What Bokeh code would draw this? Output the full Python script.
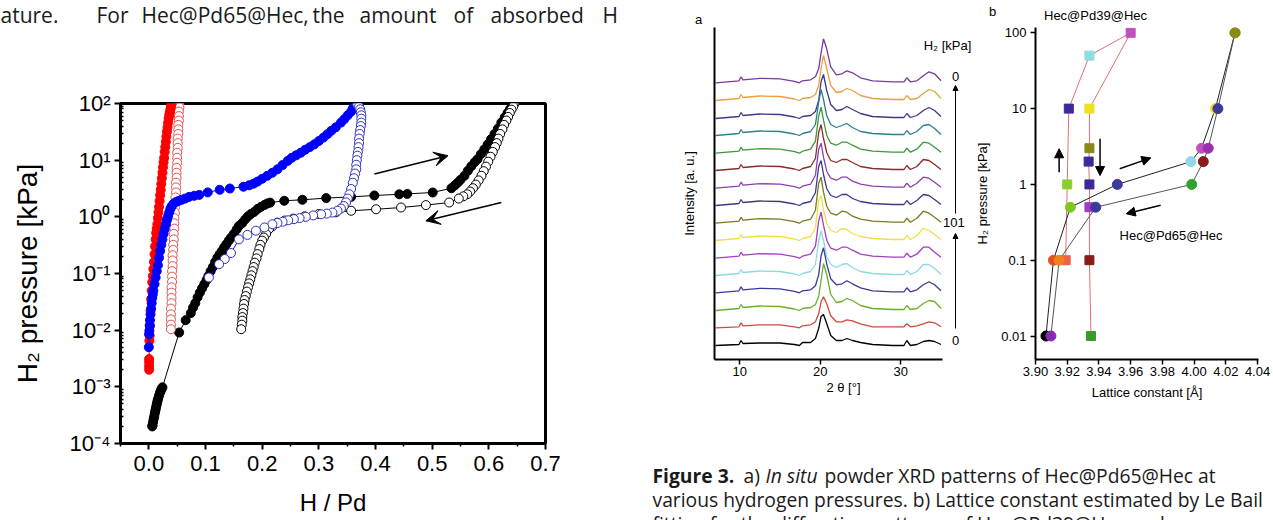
from bokeh.plotting import figure
from bokeh.layouts import row, column
from bokeh.models import (Range1d, Arrow, VeeHead, NormalHead, CustomJSTickFormatter,
                          FixedTicker, PrintfTickFormatter)
from bokeh.embed import file_html
from bokeh.resources import INLINE
from bokeh.core.properties import value

# ---------------- data: left panel (H/Pd vs H2 pressure) ----------------
red_fill_x = [0.0005, 0.0005, 0.0005, 0.0005, 0.001, 0.0015, 0.002, 0.003, 0.004, 0.005, 0.006, 0.007,
              0.008, 0.009, 0.010, 0.011, 0.012, 0.013, 0.014, 0.015, 0.016, 0.017, 0.018, 0.019, 0.020,
              0.021, 0.022, 0.023, 0.024, 0.025, 0.026, 0.027, 0.028, 0.029, 0.030, 0.031, 0.032, 0.033,
              0.034, 0.035, 0.036, 0.037, 0.038, 0.039, 0.040]
red_fill_y = [0.0020, 0.0023, 0.0027, 0.0031, 0.0065, 0.0080, 0.012, 0.022, 0.035, 0.05, 0.07, 0.09,
              0.12, 0.16, 0.22, 0.30, 0.40, 0.52, 0.62, 0.74, 0.95, 1.2, 1.5, 1.9, 2.4,
              3.0, 3.8, 4.8, 6.0, 7.5, 9.2, 11, 14, 17, 21, 26, 32, 38,
              46, 55, 62, 70, 78, 88, 98]

red_open_x = [0.054, 0.054, 0.053, 0.053, 0.053, 0.052, 0.052, 0.052, 0.051, 0.051, 0.051, 0.050, 0.050,
              0.050, 0.049, 0.049, 0.049, 0.048, 0.048, 0.048, 0.047, 0.047, 0.046, 0.046, 0.045, 0.045,
              0.045, 0.044, 0.044, 0.043, 0.043, 0.042, 0.042, 0.042, 0.041, 0.041, 0.041, 0.040, 0.040,
              0.040, 0.040, 0.039, 0.039, 0.039, 0.039, 0.039]
red_open_y = [98, 85, 72, 60, 50, 42, 35, 29, 24, 20, 16.5, 13.5, 11,
              9, 7.3, 6, 4.9, 4.0, 3.3, 2.7, 2.2, 1.8, 1.45, 1.18, 0.95, 0.77,
              0.62, 0.5, 0.4, 0.32, 0.26, 0.21, 0.17, 0.135, 0.11, 0.088, 0.071, 0.057, 0.046,
              0.037, 0.03, 0.024, 0.019, 0.0155, 0.0125, 0.0104]

blue_fill_x = [0.0, 0.0005, 0.001, 0.0015, 0.002, 0.003, 0.004, 0.005, 0.006, 0.007, 0.008, 0.010, 0.012,
               0.014, 0.016, 0.018, 0.020, 0.022, 0.024, 0.026, 0.028, 0.030, 0.032, 0.034, 0.036, 0.038,
               0.040, 0.043, 0.047, 0.052, 0.058, 0.064, 0.071, 0.080, 0.089, 0.104, 0.125, 0.143, 0.167,
               0.177, 0.185, 0.192, 0.200, 0.209, 0.218, 0.227, 0.236, 0.245, 0.252, 0.260, 0.268, 0.276,
               0.284, 0.292, 0.300, 0.308, 0.315, 0.322, 0.330, 0.339, 0.345, 0.351, 0.357, 0.360]
blue_fill_y = [0.0050, 0.0085, 0.0098, 0.012, 0.015, 0.019, 0.024, 0.03, 0.037, 0.043, 0.05, 0.065, 0.085,
               0.11, 0.14, 0.19, 0.25, 0.32, 0.40, 0.50, 0.61, 0.74, 0.88, 1.03, 1.2, 1.38,
               1.52, 1.68, 1.8, 1.9, 2.0, 2.1, 2.25, 2.35, 2.44, 2.7, 3.0, 3.16, 3.4,
               3.6, 3.85, 4.2, 4.7, 5.3, 6.0, 6.9, 8.2, 9.7, 11.0, 12.2, 13.5, 15.3,
               17.0, 19.0, 21.8, 25.0, 28.7, 33, 38, 46, 53, 62, 72, 82]

blue_open_x = [0.368, 0.371, 0.373, 0.374, 0.375, 0.375, 0.375, 0.374, 0.373, 0.372, 0.371, 0.371, 0.370,
               0.369, 0.368, 0.367, 0.366, 0.366, 0.364, 0.362, 0.360, 0.357, 0.354, 0.351, 0.348, 0.344,
               0.339, 0.333, 0.324, 0.314, 0.304, 0.290, 0.277, 0.266, 0.256, 0.246, 0.236, 0.227, 0.218,
               0.204, 0.189, 0.174, 0.159, 0.145, 0.134, 0.124, 0.106]
blue_open_y = [96, 88, 79, 70, 62, 54, 46, 40, 34, 29, 24, 20, 17,
               14, 12, 10, 8.3, 6.9, 5.8, 4.8, 4.0, 3.1, 2.5, 2.1, 1.8, 1.55,
               1.4, 1.28, 1.19, 1.14, 1.11, 1.06, 1.0, 0.95, 0.91, 0.87, 0.82, 0.78, 0.74,
               0.65, 0.57, 0.48, 0.40, 0.23, 0.18, 0.146, 0.085]

black_fill_x = [0.0060, 0.0065, 0.0075, 0.0085, 0.0095, 0.0105, 0.0115, 0.0125, 0.0135, 0.0145, 0.0155,
                0.0165, 0.018, 0.0195, 0.021, 0.0225, 0.024, 0.0535, 0.065, 0.074, 0.078, 0.082, 0.086,
                0.090, 0.094, 0.098, 0.102, 0.105, 0.109, 0.113, 0.117, 0.121, 0.125, 0.129, 0.133, 0.137,
                0.141, 0.145, 0.150, 0.155, 0.159, 0.165, 0.170, 0.175, 0.180, 0.186, 0.192, 0.198, 0.204,
                0.209, 0.214, 0.239, 0.271, 0.313, 0.357, 0.398, 0.442, 0.456, 0.501, 0.534, 0.540, 0.545,
                0.550, 0.557, 0.563, 0.569, 0.575, 0.580, 0.586, 0.592, 0.598, 0.604, 0.610, 0.616, 0.622,
                0.628, 0.633, 0.637, 0.641]
black_fill_y = [2.0e-4, 2.1e-4, 2.4e-4, 2.7e-4, 3.0e-4, 3.4e-4, 3.8e-4, 4.2e-4, 4.7e-4, 5.2e-4, 5.7e-4,
                6.2e-4, 7.0e-4, 7.8e-4, 8.5e-4, 9.2e-4, 9.8e-4, 0.0091, 0.015, 0.020, 0.025, 0.030, 0.038,
                0.046, 0.055, 0.065, 0.077, 0.09, 0.11, 0.13, 0.16, 0.19, 0.22, 0.25, 0.29, 0.33,
                0.38, 0.43, 0.50, 0.60, 0.69, 0.78, 0.90, 1.02, 1.12, 1.22, 1.38, 1.5, 1.62,
                1.72, 1.78, 1.92, 2.0, 2.14, 2.25, 2.38, 2.5, 2.54, 2.69, 3.2, 3.6, 4.0,
                4.5, 5.3, 6.5, 7.8, 9.2, 10.4, 12.8, 15.5, 19, 23.5, 29, 36, 46,
                57, 68, 79, 92]

black_open_x = [0.645, 0.643, 0.640, 0.637, 0.634, 0.631, 0.627, 0.624, 0.620, 0.617, 0.614, 0.611, 0.607,
                0.603, 0.599, 0.595, 0.591, 0.587, 0.582, 0.577, 0.572, 0.567, 0.562, 0.555, 0.547, 0.530,
                0.489, 0.445, 0.401, 0.357, 0.330, 0.300, 0.275, 0.255, 0.240, 0.227, 0.218, 0.212, 0.207,
                0.203, 0.200, 0.197, 0.195, 0.192, 0.190, 0.187, 0.185, 0.183, 0.181, 0.179, 0.177, 0.175,
                0.173, 0.171, 0.169, 0.168, 0.167, 0.166, 0.165, 0.165, 0.164, 0.163]
black_open_y = [98, 88, 78, 68, 58, 50, 42, 35, 29, 24, 20, 17, 14,
                11.5, 9.4, 7.7, 6.4, 5.3, 4.4, 3.7, 3.2, 2.8, 2.5, 2.3, 2.1, 1.79,
                1.61, 1.46, 1.36, 1.28, 1.2, 1.12, 1.02, 0.93, 0.86, 0.79, 0.68, 0.61, 0.5,
                0.43, 0.38, 0.32, 0.27, 0.22, 0.185, 0.155, 0.13, 0.11, 0.093, 0.079, 0.067, 0.057,
                0.048, 0.040, 0.034, 0.029, 0.024, 0.020, 0.017, 0.0147, 0.0125, 0.0104]

left_x_ticks = [0.0, 0.1, 0.2, 0.3, 0.4, 0.5, 0.6, 0.7]
left_x_minor = [-0.05, 0.05, 0.15, 0.25, 0.35, 0.45, 0.55, 0.65]
left_y_ticks = [1e-4, 1e-3, 1e-2, 1e-1, 1e0, 1e1, 1e2]

# ---------------- data: panel a (XRD waterfall) ----------------
two_theta = [7.0, 9.9, 10.15, 10.4, 12.5, 15.0, 16.8, 17.4, 17.8, 18.8, 19.4, 19.8, 20.1, 20.4, 20.8,
             21.3, 22.0, 22.7, 23.3, 24.0, 25.0, 26.5, 29.0, 30.4, 30.75, 31.2, 32.0, 32.8, 33.5, 34.2, 35.0]
# curves listed from top (end of desorption, 0 kPa) to bottom (start, 0 kPa)
xrd_01 = [0, 2, 6, 3, 4.5, 4, 1.5, 0, 2, 3, 6, 14, 30, 44, 34, 16, 8, 9, 12, 10, 5, 2, 1, 1, 5, 1, 2, 7, 11, 9, 2]
xrd_02 = [0, 2, 6, 3, 4.5, 4, 1.5, 0, 2, 3, 6, 15, 32, 45, 32, 15, 8, 9, 12, 10, 5, 2, 1, 1, 5, 1, 2, 7, 11, 9, 2]
xrd_03 = [0, 2, 6, 3, 4.5, 4, 1.5, 0, 2, 3, 7, 18, 37, 44, 28, 14, 8, 9, 12, 9, 5, 2, 1, 1, 5, 1, 3, 8, 11, 8, 2]
xrd_04 = [0, 2, 6, 3, 4.5, 4, 1.5, 0, 2, 4, 11, 33, 46, 36, 20, 11, 8, 10, 12, 8, 4, 2, 1, 1, 5, 1, 4, 10, 11, 7, 1]
xrd_05 = [0, 2, 6, 3, 4.5, 4, 1.5, 0, 2, 4, 12, 37, 46, 33, 18, 10, 8, 11, 11, 8, 4, 2, 1, 1, 5, 1, 4, 11, 10, 6, 1]
xrd_06 = [0, 2, 6, 3, 4.5, 4, 1.5, 0, 2, 4, 12, 38, 46, 32, 18, 10, 8, 11, 11, 8, 4, 2, 1, 1, 5, 1, 4, 11, 10, 6, 1]
xrd_07 = [0, 2, 6, 3, 4.5, 4, 1.5, 0, 2, 4, 13, 39, 45, 31, 17, 10, 8, 11, 11, 7, 4, 2, 1, 1, 5, 1, 5, 11, 10, 6, 1]
xrd_08 = [0, 2, 6, 3, 4.5, 4, 1.5, 0, 2, 4, 13, 39, 45, 31, 17, 10, 8, 11, 11, 7, 4, 2, 1, 1, 5, 1, 5, 11, 10, 6, 1]
xrd_09 = [0, 2, 6, 3, 4.5, 4, 1.5, 0, 2, 4, 13, 40, 46, 31, 17, 10, 8, 12, 11, 7, 4, 2, 1, 1, 5, 1, 5, 12, 10, 6, 1]
xrd_10 = [0, 2, 6, 3, 4.5, 4, 1.5, 0, 2, 4, 13, 40, 45, 31, 17, 10, 8, 12, 11, 7, 4, 2, 1, 1, 5, 1, 5, 12, 10, 6, 1]
xrd_11 = [0, 2, 6, 3, 4.5, 4, 1.5, 0, 2, 4, 12, 37, 46, 33, 18, 10, 8, 11, 11, 8, 4, 2, 1, 1, 5, 1, 4, 11, 11, 6, 1]
xrd_12 = [0, 2, 6, 3, 4.5, 4, 1.5, 0, 2, 4, 11, 34, 45, 35, 19, 11, 8, 11, 12, 8, 4, 2, 1, 1, 5, 1, 4, 11, 11, 7, 1]
xrd_13 = [0, 2, 6, 3, 4.5, 4, 1.5, 0, 2, 3, 7, 18, 37, 45, 29, 14, 8, 9, 12, 9, 5, 2, 1, 1, 5, 1, 3, 8, 11, 8, 2]
xrd_14 = [0, 2, 6, 3, 4.5, 4, 1.5, 0, 2, 3, 6, 14, 30, 47, 36, 16, 8, 9, 12, 10, 5, 2, 1, 1, 5, 1, 2, 7, 10, 9, 2]
xrd_15 = [0, 1, 5, 2, 3, 3, 1, 0, 2, 3, 6, 14, 26, 31, 24, 12, 6, 6, 8, 7, 4, 1, 1, 1, 4, 1, 2, 4, 6, 5, 1]
xrd_16 = [0, 1, 5, 2, 2.5, 2.5, 1, 0, 3, 3, 7, 17, 29, 31, 22, 10, 5, 5, 7, 5, 3, 1, 0, 0, 5, 0, 1, 4, 5, 4, 1]
xrd_curves = [xrd_01, xrd_02, xrd_03, xrd_04, xrd_05, xrd_06, xrd_07, xrd_08,
              xrd_09, xrd_10, xrd_11, xrd_12, xrd_13, xrd_14, xrd_15, xrd_16]
xrd_offsets = [276.7, 259, 241, 224, 206.3, 189, 171.3, 154, 136.3, 119, 101.3, 84, 66.7, 49, 31.7, 14]
xrd_colors = ["#7a3a9a", "#e8a040", "#3a3a8a", "#2f7f8f", "#3a9a3a", "#8a2a2a", "#8a40b0", "#3a3a8a",
              "#7a7a20", "#f0e040", "#a040c0", "#90d8e0", "#3a3a9a", "#6ab02a", "#d04a3a", "#000000"]
xrd_ticks = [10, 20, 30]
xrd_side_labels = ["0", "101", "0"]

# ---------------- data: panel b (lattice constant) ----------------
sq_x = [3.919, 3.920, 3.921, 3.934, 3.960, 3.934, 3.934, 3.9335, 3.934, 3.934, 3.934, 3.935]
sq_y = [0.1, 1, 10, 50, 100, 10, 3, 2, 1, 0.5, 0.1, 0.01]
sq_c = ["#f06048", "#88d030", "#3a2a9a", "#90dce0", "#c050c0", "#f0e020", "#8a8a1a", "#3a2a9a",
        "#3a2a9a", "#a03cc8", "#8b1a1a", "#3a9a2a"]
ci_ads_x = [3.9066, 3.9113, 3.922, 3.9516, 3.998, 4.0047, 4.0134, 4.0258]
ci_ads_y = [0.01, 0.1, 0.5, 1, 2, 3, 10, 100]
ci_ads_c = ["#000000", "#e05020", "#80c820", "#3a3a9a", "#90d8e8", "#c050c0", "#f0e020", "#8a8a1a"]
ci_des_x = [4.0258, 4.015, 4.0089, 4.0058, 3.9985, 3.938, 3.9149, 3.9097]
ci_des_y = [100, 10, 3, 2, 1, 0.5, 0.1, 0.01]
ci_des_c = ["#8a8a1a", "#3a3a9a", "#9a30b0", "#8b1a1a", "#30a030", "#3a3a9a", "#f08020", "#8a2ab0"]
b_x_ticks = [3.90, 3.92, 3.94, 3.96, 3.98, 4.00, 4.02, 4.04]
b_y_ticks = [0.01, 0.1, 1, 10, 100]

# ---------------- texts ----------------
top_words = ["ature.", "For", "Hec@Pd65@Hec,", "the", "amount", "of", "absorbed", "H"]
cap_line1 = ["Figure 3.", "a)", "In situ", "powder XRD patterns of Hec@Pd65@Hec at"]
cap_line2 = "various hydrogen pressures. b) Lattice constant estimated by Le Bail"
cap_line3 = "fitting for the diffraction patterns of Hec@Pd39@Hec and"

SANS = "Liberation Sans"
BODY = "Open Sans"
TXT = "#1a1a1a"


def plain_fig(w, h):
    p = figure(width=w, height=h, x_range=Range1d(0, w), y_range=Range1d(h, 0),
               output_backend="svg", toolbar_location=None,
               x_axis_location=None, y_axis_location=None, min_border=0)
    p.grid.visible = False
    p.outline_line_color = None
    return p


# ---- strips above the panels (running text, panel letters) ----
strip_left = plain_fig(640, 27)
strip_left.text(x=[0, 96, 141, 312, 359, 453, 490, 602], y=[14] * 8, text=top_words,
                text_font=value(BODY), text_font_size="21px", text_color=TXT, text_baseline="alphabetic")
strip_a = plain_fig(332, 27)
strip_a.text(x=[58], y=[19], text=["a"], text_font=value(SANS), text_font_size="13px",
             text_align="center", text_baseline="middle", text_color="black")
strip_b = plain_fig(301, 24)
strip_b.text(x=[20], y=[11], text=["b"], text_font=value(SANS), text_font_size="13px",
             text_align="center", text_baseline="middle", text_color="black")
strip_b.text(x=[123], y=[15], text=["Hec@Pd39@Hec"], text_font=value(SANS), text_font_size="13px",
             text_align="center", text_baseline="middle", text_color="black")

# ---- left panel ----
pl = figure(width=640, height=493, x_range=Range1d(-0.05, 0.7), y_range=Range1d(1e-4, 1e2),
            y_axis_type="log", output_backend="svg", toolbar_location=None,
            min_border_left=120, min_border_right=95, min_border_top=76, min_border_bottom=77)
pl.grid.visible = False
pl.outline_line_color = "black"
pl.outline_line_width = 3
for ax in (pl.xaxis[0], pl.yaxis[0]):
    ax.axis_line_width = 3
    ax.major_tick_line_width = 2
    ax.minor_tick_line_width = 1.5
    ax.major_label_text_font = SANS
    ax.major_label_text_font_size = "22px"
    ax.major_label_text_color = "black"
    ax.axis_label_text_font = SANS
    ax.axis_label_text_font_style = "normal"
    ax.axis_label_text_color = "black"
pl.xaxis.ticker = FixedTicker(ticks=left_x_ticks, minor_ticks=left_x_minor)
pl.xaxis.formatter = PrintfTickFormatter(format="%.1f")
pl.xaxis.major_tick_out = 6
pl.xaxis.major_tick_in = 0
pl.xaxis.minor_tick_out = 3
pl.xaxis.minor_tick_in = 0
pl.xaxis.major_label_standoff = 6
pl.xaxis.axis_label = "H / Pd"
pl.xaxis.axis_label_text_font_size = "24px"
pl.xaxis.axis_label_standoff = 15
pl.yaxis.ticker = FixedTicker(ticks=left_y_ticks,
                              minor_ticks=[m * t for t in left_y_ticks[:-1] for m in range(2, 10)])
pl.yaxis.formatter = CustomJSTickFormatter(code="""
const m = {"-":"\u207b","0":"\u2070","1":"\u00b9","2":"\u00b2","3":"\u00b3","4":"\u2074",
           "5":"\u2075","6":"\u2076","7":"\u2077","8":"\u2078","9":"\u2079"};
const e = Math.round(Math.log10(tick));
return "10" + String(e).split("").map(c => m[c]).join("");
""")
pl.yaxis.major_tick_out = 6
pl.yaxis.major_tick_in = 0
pl.yaxis.minor_tick_out = 0
pl.yaxis.minor_tick_in = 3
pl.yaxis.major_label_standoff = 4
pl.yaxis.axis_label = "H\u2082 pressure [kPa]"
pl.yaxis.axis_label_text_font_size = "28px"
pl.yaxis.axis_label_standoff = 24

pl.line(black_fill_x, black_fill_y, line_color="black", line_width=1)
pl.scatter(black_fill_x, black_fill_y, size=9, marker="circle", fill_color="black", line_color="black")
pl.line(black_open_x, black_open_y, line_color="black", line_width=1)
pl.scatter(black_open_x, black_open_y, size=9, marker="circle", fill_color="white", line_color="black",
           line_width=1)
pl.line(red_open_x, red_open_y, line_color="#e04040", line_width=1)
pl.scatter(red_open_x, red_open_y, size=9, marker="circle", fill_color="white", line_color="#e05050",
           line_width=1)
pl.line(red_fill_x, red_fill_y, line_color="red", line_width=1)
pl.scatter(red_fill_x, red_fill_y, size=9, marker="circle", fill_color="red", line_color="red")
pl.line(blue_fill_x, blue_fill_y, line_color="blue", line_width=1)
pl.scatter(blue_fill_x, blue_fill_y, size=9, marker="circle", fill_color="blue", line_color="blue")
pl.line(blue_open_x, blue_open_y, line_color="blue", line_width=1)
pl.scatter(blue_open_x, blue_open_y, size=9, marker="circle", fill_color="white", line_color="#3030c0",
           line_width=1)
pl.add_layout(Arrow(x_start=0.398, y_start=5.7, x_end=0.528, y_end=12, line_width=1.5,
                    end=VeeHead(size=14, fill_color="black", line_color="black")))
pl.add_layout(Arrow(x_start=0.622, y_start=1.79, x_end=0.489, y_end=0.85, line_width=1.5,
                    end=VeeHead(size=14, fill_color="black", line_color="black")))

# ---- panel a: XRD ----
pa = figure(width=332, height=393, x_range=Range1d(6.86, 38.91), y_range=Range1d(0, 332),
            output_backend="svg", toolbar_location=None,
            min_border_left=74, min_border_right=0, min_border_top=0, min_border_bottom=61)
pa.grid.visible = False
pa.outline_line_color = None
pa.xaxis.ticker = FixedTicker(ticks=xrd_ticks, minor_ticks=[])
pa.xaxis.bounds = (6.86, 35.18)
pa.yaxis.ticker = FixedTicker(ticks=[], minor_ticks=[])
for ax in (pa.xaxis[0], pa.yaxis[0]):
    ax.axis_line_width = 2
    ax.major_tick_line_width = 1.5
    ax.major_label_text_font = SANS
    ax.major_label_text_font_size = "13px"
    ax.major_label_text_color = "black"
    ax.axis_label_text_font = SANS
    ax.axis_label_text_font_style = "normal"
    ax.axis_label_text_font_size = "13px"
    ax.axis_label_text_color = "black"
pa.xaxis.major_tick_out = 5
pa.xaxis.major_tick_in = 0
pa.xaxis.major_label_standoff = 2
pa.xaxis.axis_label = "2 \u03b8 [\u00b0]"
pa.xaxis.axis_label_standoff = 1
pa.yaxis.axis_label = "Intensity [a. u.]"
pa.yaxis.axis_label_standoff = 18
for curve, off, col in zip(xrd_curves, xrd_offsets, xrd_colors):
    pa.line(two_theta, [off + v for v in curve], line_color=col, line_width=1.3)
pa.text(x=[35.8], y=[314], text=["H\u2082 [kPa]"], text_font=value(SANS), text_font_size="13px",
        text_align="center", text_baseline="middle", text_color="black")
pa.text(x=[36.8, 36.6, 36.8], y=[283, 137, 19], text=xrd_side_labels, text_font=value(SANS),
        text_font_size="13px", text_align="center", text_baseline="middle", text_color="black")
pa.add_layout(Arrow(x_start=36.8, y_start=31, x_end=36.8, y_end=126, line_width=1,
                    end=NormalHead(size=5, fill_color="black", line_color="black")))
pa.add_layout(Arrow(x_start=36.8, y_start=146, x_end=36.8, y_end=274, line_width=1,
                    end=NormalHead(size=5, fill_color="black", line_color="black")))

# ---- panel b: lattice constant ----
pb = figure(width=301, height=396, x_range=Range1d(3.90, 4.0406), y_range=Range1d(0.0049, 117.5),
            y_axis_type="log", output_backend="svg", toolbar_location=None,
            min_border_left=59, min_border_right=15, min_border_top=3, min_border_bottom=61)
pb.grid.visible = False
pb.outline_line_color = None
for ax in (pb.xaxis[0], pb.yaxis[0]):
    ax.axis_line_width = 2
    ax.major_tick_line_width = 1.5
    ax.major_tick_out = 5
    ax.major_tick_in = 0
    ax.minor_tick_line_color = None
    ax.major_label_text_font = SANS
    ax.major_label_text_font_size = "13px"
    ax.major_label_text_color = "black"
    ax.axis_label_text_font = SANS
    ax.axis_label_text_font_style = "normal"
    ax.axis_label_text_font_size = "13px"
    ax.axis_label_text_color = "black"
pb.xaxis.ticker = FixedTicker(ticks=b_x_ticks, minor_ticks=[])
pb.xaxis.formatter = PrintfTickFormatter(format="%.2f")
pb.xaxis.major_label_standoff = 2
pb.xaxis.axis_label = "Lattice constant [\u00c5]"
pb.xaxis.axis_label_standoff = 6
pb.yaxis.ticker = FixedTicker(ticks=b_y_ticks, minor_ticks=[])
pb.yaxis.formatter = CustomJSTickFormatter(code="""
const e = Math.round(Math.log10(tick));
return e >= 0 ? String(Math.pow(10, e)) : Math.pow(10, e).toFixed(-e);
""")
pb.yaxis.major_label_standoff = 4
pb.yaxis.axis_label = "H\u2082 pressure [kPa]"
pb.yaxis.axis_label_standoff = 8

pb.line(sq_x, sq_y, line_color="#e07070", line_width=1)
pb.line(ci_ads_x, ci_ads_y, line_color="#222222", line_width=1)
pb.line(ci_des_x, ci_des_y, line_color="#555555", line_width=1)
pb.scatter(sq_x, sq_y, marker="square", size=9, fill_color=sq_c, line_color=sq_c)
pb.scatter(ci_ads_x, ci_ads_y, marker="circle", size=10, fill_color=ci_ads_c, line_color=ci_ads_c)
pb.scatter(ci_des_x, ci_des_y, marker="circle", size=10, fill_color=ci_des_c, line_color=ci_des_c)
for xs, ys, xe, ye in [(3.9149, 1.45, 3.9149, 2.95), (3.9407, 4.0, 3.9407, 1.31),
                       (3.9531, 1.61, 3.9727, 2.24), (3.9789, 0.53, 3.9572, 0.41)]:
    pb.add_layout(Arrow(x_start=xs, y_start=ys, x_end=xe, y_end=ye, line_width=1.5,
                        end=NormalHead(size=9, fill_color="black", line_color="black")))
pb.text(x=[3.9855], y=[0.215], text=["Hec@Pd65@Hec"], text_font=value(SANS), text_font_size="13px",
        text_align="center", text_baseline="middle", text_color="black")

# ---- caption ----
cap = plain_fig(633, 100)
CAP_SIZE = "19.3px"
cap.text(x=[12], y=[55], text=cap_line1[:1], text_font=value(BODY), text_font_style="bold",
         text_font_size=CAP_SIZE, text_color=TXT, text_baseline="alphabetic")
cap.text(x=[103], y=[55], text=cap_line1[1:2], text_font=value(BODY),
         text_font_size=CAP_SIZE, text_color=TXT, text_baseline="alphabetic")
cap.text(x=[125], y=[55], text=cap_line1[2:3], text_font=value(BODY), text_font_style="italic",
         text_font_size=CAP_SIZE, text_color=TXT, text_baseline="alphabetic")
cap.text(x=[184], y=[55], text=cap_line1[3:], text_font=value(BODY),
         text_font_size=CAP_SIZE, text_color=TXT, text_baseline="alphabetic")
cap.text(x=[12, 12], y=[79, 103], text=[cap_line2, cap_line3], text_font=value(BODY),
         text_font_size=CAP_SIZE, text_color=TXT, text_baseline="alphabetic")

# each figure wrapped in its own row so that neighbouring frames are not aligned
left_col = column(row(strip_left), row(pl))
a_col = column(row(strip_a), row(pa))
b_col = column(row(strip_b), row(pb))
right_col = column(row(a_col, b_col), row(cap))
layout = row(left_col, right_col,
             styles={"position": "absolute", "left": "0px", "top": "0px"})

open("out.html", "w").write(file_html(layout, INLINE))
